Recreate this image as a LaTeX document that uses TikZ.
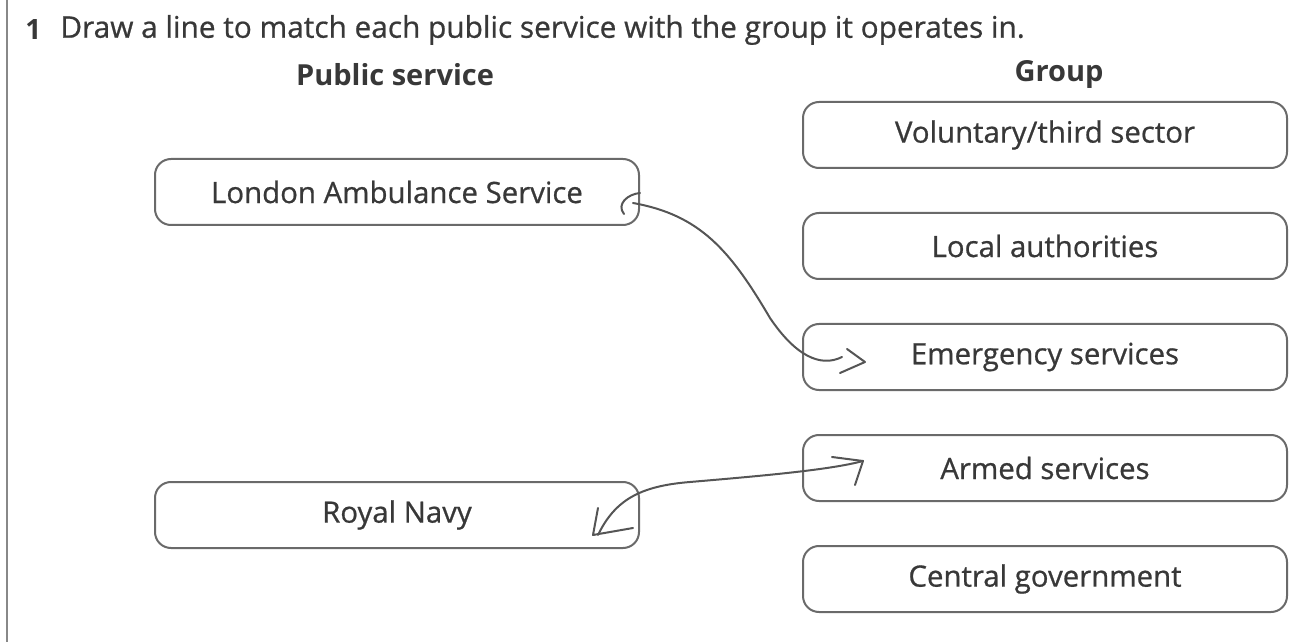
\documentclass[tikz,border=0pt]{standalone}
\usepackage{fontspec}
\setmainfont{Open Sans}
\newfontfamily\medfont[FakeBold=0.7]{Open Sans}
\usetikzlibrary{calc}
\definecolor{ink}{HTML}{383838}
\definecolor{boxline}{HTML}{6A6A6A}
\definecolor{pen}{HTML}{555555}
\begin{document}
\begin{tikzpicture}[x=0.5pt,y=-0.5pt,
  box/.style={draw=boxline, line width=1pt, rounded corners=8pt, minimum width=242pt, minimum height=33pt, inner sep=0pt, text=ink, font=\medfont\fontsize{14.7}{17}\selectfont},
  hand/.style={draw=pen, line width=1pt, line cap=round, line join=round},
  hdr/.style={text=ink, font=\fontsize{14.5}{17}\selectfont\bfseries}]
\useasboundingbox (0,0) rectangle (1298,642);
\draw[boxline!80, line width=1pt] (7,0) -- (7,642);
\node[anchor=west, text=ink, font=\bfseries\fontsize{14}{17}\selectfont, inner sep=0pt] (num) at (25,30) {1};
\node[anchor=west, text=ink, font=\medfont\fontsize{14.9}{17}\selectfont, inner sep=0pt] (title) at (60,30) {Draw a line to match each public service with the group it operates in.};
\node[hdr] (hps) at (395,75) {Public service};
\node[hdr] (hgr) at (1059,74) {Group};
\node[box] (las) at (397,192) {London Ambulance Service};
\node[box] (rn) at (397,515) {Royal Navy};
\node[box] (vol) at (1045,135) {Voluntary/third sector};
\node[box] (loc) at (1045,246) {Local authorities};
\node[box] (emg) at (1045,357) {Emergency services};
\node[box] (arm) at (1045,468) {Armed services};
\node[box] (cen) at (1045,579) {Central government};
% hand-drawn connector 1
\coordinate (a1) at ($(las.east)+(-7,11)$);
\coordinate (a2) at ($(emg.west)+(40,0)$);
\draw[hand] ($(las.east)+(0,1)$) .. controls ($(las.east)+(-12,2)$) and ($(las.east)+(-24,12)$) .. ($(las.east)+(-16,22)$);
\draw[hand] (a1) .. controls (700,215) and (730,250) .. (770,318) .. controls (795,355) and (820,368) .. (a2);
\draw[hand] ($(emg.west)+(45,-8)$) -- ($(emg.west)+(63,5)$) -- ($(emg.west)+(38,16)$);
% hand-drawn connector 2
\coordinate (b1) at ($(rn.east)+(-42,20)$);
\coordinate (b2) at ($(arm.west)+(61,-7)$);
\draw[hand] (b1) .. controls (615,500) and (640,486) .. (690,482) .. controls (760,476) and (830,470) .. (b2);
\draw[hand] ($(rn.east)+(-42,-7)$) -- ($(rn.east)+(-47,20)$) -- ($(rn.east)+(-7,13)$);
\draw[hand] ($(arm.west)+(30,-11)$) -- (b2) -- ($(arm.west)+(53,17)$);
\end{tikzpicture}
\end{document}
